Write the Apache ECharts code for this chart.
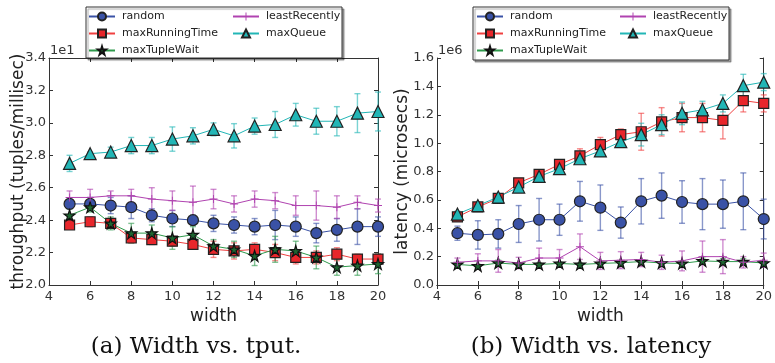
<!DOCTYPE html>
<html>
<head>
<meta charset="utf-8">
<script src="https://cdn.jsdelivr.net/npm/echarts@6/dist/echarts.min.js"></script>
<style>
  html, body {margin: 0; padding: 0; background: #fff;}
  #chart {width: 775px; height: 363px;}
</style>
</head>
<body>
<div id="chart"></div>
<script>
// x values
const widths = [5, 6, 7, 8, 9, 10, 11, 12, 13, 14, 15, 16, 17, 18, 19, 20];

// throughput, in units of 1e1 tuples/millisec
const tputRandom = [2.50, 2.50, 2.49, 2.48, 2.43, 2.41, 2.40, 2.38, 2.37, 2.36, 2.37, 2.36, 2.32, 2.34, 2.36, 2.36];
const tputRandomErr = [0.03, 0.04, 0.05, 0.07, 0.04, 0.05, 0.03, 0.05, 0.05, 0.05, 0.09, 0.06, 0.06, 0.07, 0.11, 0.06];
const tputMaxRunning = [2.37, 2.39, 2.38, 2.29, 2.28, 2.27, 2.25, 2.22, 2.21, 2.22, 2.20, 2.17, 2.17, 2.19, 2.16, 2.16];
const tputMaxRunningErr = [0.02, 0.03, 0.03, 0.03, 0.03, 0.03, 0.03, 0.05, 0.05, 0.04, 0.05, 0.04, 0.04, 0.04, 0.03, 0.03];
const tputMaxTuple = [2.43, 2.48, 2.38, 2.32, 2.32, 2.29, 2.31, 2.24, 2.22, 2.18, 2.22, 2.21, 2.17, 2.11, 2.12, 2.13];
const tputMaxTupleErr = [0.04, 0.03, 0.04, 0.06, 0.05, 0.07, 0.05, 0.04, 0.05, 0.06, 0.08, 0.06, 0.07, 0.05, 0.06, 0.06];
const tputLeast = [2.54, 2.54, 2.55, 2.55, 2.53, 2.52, 2.51, 2.53, 2.50, 2.53, 2.52, 2.49, 2.49, 2.48, 2.51, 2.49];
const tputLeastErr = [0.04, 0.05, 0.03, 0.04, 0.07, 0.06, 0.10, 0.06, 0.05, 0.05, 0.05, 0.06, 0.09, 0.07, 0.04, 0.04];
const tputMaxQueue = [2.75, 2.81, 2.82, 2.86, 2.86, 2.90, 2.92, 2.96, 2.92, 2.98, 2.99, 3.05, 3.01, 3.01, 3.06, 3.07];
const tputMaxQueueErr = [0.05, 0.01, 0.03, 0.05, 0.05, 0.075, 0.05, 0.04, 0.075, 0.05, 0.08, 0.07, 0.08, 0.09, 0.12, 0.12];

// latency, in units of 1e6 microsecs
const latRandom = [0.365, 0.353, 0.36, 0.43, 0.46, 0.46, 0.59, 0.545, 0.44, 0.59, 0.63, 0.585, 0.57, 0.57, 0.59, 0.465];
const latRandomErr = [0.05, 0.10, 0.10, 0.13, 0.15, 0.11, 0.14, 0.16, 0.11, 0.16, 0.16, 0.15, 0.18, 0.17, 0.20, 0.14];
const latMaxRunning = [0.48, 0.55, 0.61, 0.72, 0.78, 0.85, 0.91, 0.99, 1.06, 1.08, 1.15, 1.18, 1.18, 1.16, 1.30, 1.28];
const latMaxRunningErr = [0.02, 0.02, 0.02, 0.02, 0.03, 0.03, 0.05, 0.05, 0.04, 0.13, 0.10, 0.10, 0.10, 0.13, 0.08, 0.06];
const latMaxTuple = [0.145, 0.135, 0.155, 0.145, 0.145, 0.152, 0.145, 0.152, 0.157, 0.165, 0.155, 0.152, 0.17, 0.165, 0.165, 0.155];
const latMaxTupleErr = [0.01, 0.01, 0.02, 0.01, 0.01, 0.01, 0.01, 0.01, 0.01, 0.01, 0.01, 0.01, 0.02, 0.02, 0.02, 0.01];
const latLeast = [0.16, 0.17, 0.17, 0.155, 0.19, 0.19, 0.27, 0.17, 0.175, 0.18, 0.16, 0.17, 0.20, 0.20, 0.16, 0.175];
const latLeastErr = [0.03, 0.05, 0.08, 0.04, 0.07, 0.06, 0.09, 0.06, 0.06, 0.05, 0.05, 0.07, 0.11, 0.12, 0.04, 0.05];
const latMaxQueue = [0.50, 0.56, 0.62, 0.69, 0.765, 0.82, 0.89, 0.945, 1.01, 1.06, 1.13, 1.21, 1.235, 1.28, 1.405, 1.43];
const latMaxQueueErr = [0.02, 0.02, 0.02, 0.02, 0.03, 0.03, 0.03, 0.03, 0.03, 0.08, 0.07, 0.08, 0.06, 0.06, 0.08, 0.06];

const xTicks = [4, 6, 8, 10, 12, 14, 16, 18, 20];

const STAR = 'path://M50,0 L61,35 L98,35 L68,57 L79,91 L50,70 L21,91 L32,57 L2,35 L39,35 Z';
const PLUS = 'path://M44,0 H56 V44 H100 V56 H56 V100 H44 V56 H0 V44 H44 Z';

// marker look per series
const styles = {
  random: {color: '#3a52a6', line: '#3a52a6', symbol: 'circle', size: 11, edge: '#222'},
  maxRunningTime: {color: '#e8262b', line: '#f04040', symbol: 'rect', size: 10, edge: '#222'},
  maxTupleWait: {color: '#1d6630', line: '#2f9a4c', symbol: STAR, size: 11, edge: '#111'},
  leastRecently: {color: '#b043b0', line: '#b043b0', symbol: PLUS, size: 8, edge: null},
  maxQueue: {color: '#22b6b6', line: '#22b6b6', symbol: 'triangle', size: 12, edge: '#222'}
};

const container = document.getElementById('chart');
const chart = echarts.init(container);

const axisText = {color: '#333', fontSize: 13, fontFamily: 'DejaVu Sans'};

function lineSeries(name, vals, idx) {
  const s = styles[name];
  return {
    type: 'line',
    name: name,
    xAxisIndex: idx * 2,
    yAxisIndex: idx * 2,
    data: widths.map((w, i) => [w, vals[i]]),
    symbol: s.symbol,
    symbolSize: s.size,
    z: 4,
    lineStyle: {color: s.line, width: 1},
    itemStyle: {
      color: s.color,
      borderColor: s.edge || s.color,
      borderWidth: s.edge ? 1.2 : 0
    },
    emphasis: {disabled: true},
    animation: false
  };
}

function errSeries(name, vals, errs, idx) {
  const s = styles[name];
  return {
    type: 'custom',
    name: name + '-err',
    xAxisIndex: idx * 2,
    yAxisIndex: idx * 2,
    data: widths.map((w, i) => [w, vals[i] - errs[i], vals[i] + errs[i]]),
    z: 3,
    silent: true,
    animation: false,
    renderItem: function (params, api) {
      const lo = api.coord([api.value(0), api.value(1)]);
      const hi = api.coord([api.value(0), api.value(2)]);
      const cap = 3;
      const st = {stroke: s.line, lineWidth: 1.4, opacity: 0.6};
      return {
        type: 'group',
        children: [
          {type: 'line', shape: {x1: lo[0], y1: lo[1], x2: hi[0], y2: hi[1]}, style: st},
          {type: 'line', shape: {x1: lo[0] - cap, y1: lo[1], x2: lo[0] + cap, y2: lo[1]}, style: st},
          {type: 'line', shape: {x1: hi[0] - cap, y1: hi[1], x2: hi[0] + cap, y2: hi[1]}, style: st}
        ]
      };
    }
  };
}

function axesFor(idx, yMin, yMax, yName, nameGap) {
  const base = {
    axisLine: {show: true, lineStyle: {color: '#333', width: 1}},
    axisTick: {show: true, inside: true, length: 4, lineStyle: {color: '#333'}},
    splitLine: {show: false}
  };
  const x = [
    Object.assign({}, base, {
      type: 'value', gridIndex: idx, position: 'bottom', min: 4, max: 20, interval: 2,
      axisLabel: Object.assign({margin: 5, formatter: v => xTicks.includes(v) ? String(v) : ''}, axisText),
      name: 'width', nameLocation: 'middle', nameGap: 17,
      nameTextStyle: {color: '#222', fontSize: 17, fontFamily: 'DejaVu Sans'}
    }),
    Object.assign({}, base, {
      type: 'value', gridIndex: idx, position: 'top', min: 4, max: 20, interval: 2,
      axisLabel: {show: false}
    })
  ];
  const y = [
    Object.assign({}, base, {
      type: 'value', gridIndex: idx, position: 'left', min: yMin, max: yMax, interval: 0.2,
      axisLabel: Object.assign({margin: 3, formatter: v => v.toFixed(1)}, axisText),
      name: yName, nameLocation: 'middle', nameGap: nameGap, nameMoveOverlap: false,
      nameTextStyle: {color: '#222', fontSize: 17, fontFamily: 'DejaVu Sans'}
    }),
    Object.assign({}, base, {
      type: 'value', gridIndex: idx, position: 'right', min: yMin, max: yMax, interval: 0.2,
      axisLabel: {show: false}
    })
  ];
  return {x, y};
}

const leftAxes = axesFor(0, 2.0, 3.4, 'throughput (tuples/millisec)', 22);
const rightAxes = axesFor(1, 0.0, 1.6, 'latency (microsecs)', 26);

const order = ['random', 'maxRunningTime', 'maxTupleWait', 'leastRecently', 'maxQueue'];
const tputVals = [tputRandom, tputMaxRunning, tputMaxTuple, tputLeast, tputMaxQueue];
const tputErrs = [tputRandomErr, tputMaxRunningErr, tputMaxTupleErr, tputLeastErr, tputMaxQueueErr];
const latVals = [latRandom, latMaxRunning, latMaxTuple, latLeast, latMaxQueue];
const latErrs = [latRandomErr, latMaxRunningErr, latMaxTupleErr, latLeastErr, latMaxQueueErr];

const series = [];
order.forEach((n, i) => {
  series.push(errSeries(n, tputVals[i], tputErrs[i], 0));
  series.push(lineSeries(n, tputVals[i], 0));
});
order.forEach((n, i) => {
  series.push(errSeries(n, latVals[i], latErrs[i], 1));
  series.push(lineSeries(n, latVals[i], 1));
});

function legendCol(names, left) {
  return {
    data: names,
    orient: 'vertical',
    left: left,
    top: 11,
    padding: 0,
    itemGap: 6,
    itemWidth: 26,
    itemHeight: 10,
    selectedMode: false,
    z: 10,
    textStyle: {color: '#222', fontSize: 11, fontFamily: 'DejaVu Sans', padding: [0, 0, 0, 2]}
  };
}

function legendBox(x, y, w, h) {
  return {
    type: 'rect', z: 5,
    shape: {x: x, y: y, width: w, height: h},
    style: {fill: '#fff', stroke: '#333', lineWidth: 1, shadowColor: 'rgba(0,0,0,0.35)', shadowOffsetX: 2, shadowOffsetY: 2, shadowBlur: 1}
  };
}

const option = {
  backgroundColor: '#fff',
  animation: false,
  grid: [
    {left: 49, right: 397, top: 58, bottom: 78},
    {left: 437, right: 9, top: 58, bottom: 78}
  ],
  xAxis: leftAxes.x.concat(rightAxes.x),
  yAxis: leftAxes.y.concat(rightAxes.y),
  legend: [
    legendCol(['random', 'maxRunningTime', 'maxTupleWait'], 88),
    legendCol(['leastRecently', 'maxQueue'], 232),
    legendCol(['random', 'maxRunningTime', 'maxTupleWait'], 476),
    legendCol(['leastRecently', 'maxQueue'], 619)
  ],
  graphic: [
    legendBox(86, 7, 256, 51),
    legendBox(473, 7, 256, 53),
    {type: 'text', z: 6, style: {text: '1e1', x: 50, y: 57, textVerticalAlign: 'bottom', fill: '#333', font: '13px "DejaVu Sans"'}},
    {type: 'text', z: 6, style: {text: '1e6', x: 438, y: 57, textVerticalAlign: 'bottom', fill: '#333', font: '13px "DejaVu Sans"'}},
    {type: 'text', style: {text: '(a) Width vs. tput.', x: 196, y: 347, textAlign: 'center', textVerticalAlign: 'middle', fill: '#111', font: '23px "DejaVu Serif"'}},
    {type: 'text', style: {text: '(b) Width vs. latency', x: 591, y: 347, textAlign: 'center', textVerticalAlign: 'middle', fill: '#111', font: '23px "DejaVu Serif"'}}
  ],
  series: series
};

chart.setOption(option);
</script>
</body>
</html>
